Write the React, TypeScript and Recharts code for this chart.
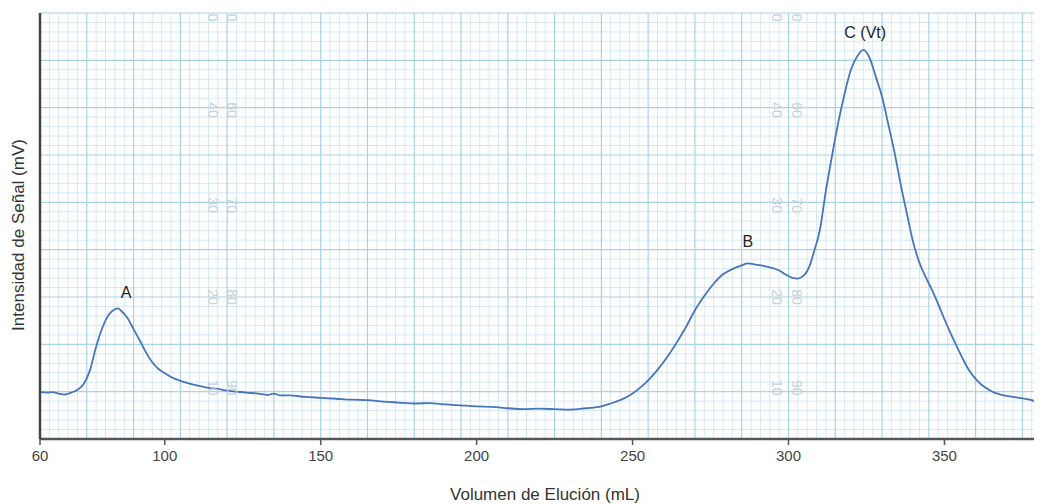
import React from 'react';
import { LineChart, Line, XAxis, YAxis, ReferenceLine, ReferenceDot } from 'recharts';

const volumes = [
  60, 62, 64, 66, 68, 70, 72, 74, 76, 78, 80, 82, 84, 85, 86, 88, 90, 92, 94, 96, 98, 100,
  102, 105, 108, 111, 114, 117, 120, 123, 126, 130, 133, 135, 137, 140, 145, 150, 155, 160,
  165, 170, 175, 180, 185, 190, 195, 200, 205, 210, 215, 220, 225, 230, 235, 240, 243, 246,
  249, 252, 255, 258, 261, 264, 267, 270, 273, 276, 279, 282, 285, 287, 289, 292, 295, 297,
  299, 301, 303, 305, 306, 307, 308, 310, 312, 314, 316, 318, 320, 322, 324, 326, 328, 330,
  332, 334, 336, 338, 340, 342, 344, 346, 348, 350, 352, 354, 356, 358, 360, 362, 364, 366,
  368, 370, 373, 376, 378, 380,
];
const signal = [
  9.9, 9.8, 9.9, 9.6, 9.4, 9.8, 10.4, 11.6, 14.5, 19.5, 23.5, 26.2, 27.4, 27.6, 27.1, 25.6,
  23.2, 20.8, 18.3, 16.2, 14.8, 13.9, 13.1, 12.3, 11.7, 11.2, 10.8, 10.6, 10.2, 10.0, 9.8,
  9.6, 9.3, 9.6, 9.2, 9.2, 8.9, 8.7, 8.5, 8.3, 8.2, 7.9, 7.7, 7.5, 7.6, 7.3, 7.1, 6.9, 6.8,
  6.5, 6.3, 6.4, 6.3, 6.2, 6.5, 6.9, 7.5, 8.2, 9.2, 10.6, 12.4, 14.6, 17.2, 20.2, 23.5,
  27.2, 30.2, 32.8, 34.8, 35.9, 36.7, 37.1, 36.9, 36.6, 36.1, 35.6, 34.8, 34.1, 33.9, 34.6,
  35.5, 37.0, 39.2, 44.0, 52.5, 60.0, 67.0, 73.0, 78.0, 80.8, 82.2, 80.5, 76.5, 72.3, 66.5,
  60.5, 53.7, 47.5, 41.5, 37.2, 34.2, 31.5, 28.5, 25.3, 22.3, 19.5, 16.8, 14.4, 12.7, 11.4,
  10.5, 9.8, 9.4, 9.1, 8.8, 8.5, 8.2, 7.6,
];

const xTicks = [60, 100, 150, 200, 250, 300, 350];

// picos marcados
const peakLabels = ['A', 'B', 'C (Vt)'];
const peakX = [87.6, 287, 324.6];
const peakY = [31, 41.8, 86];

// números impresos en el papel milimetrado
const paperNums = ['0', '40', '30', '20', '10', '0', '60', '70', '80', '90'];
const paperNumY = [89, 69.5, 49.4, 30, 10.8, 89, 69.5, 49.4, 30, 10.8];
const paperColsLeft = [115.5, 121.6];
const paperColsRight = [296.4, 302.8];

const data = volumes.map((v, i) => ({ vol: v, mv: signal[i] }));

const range = (a: number, b: number, step: number) => {
  const out: number[] = [];
  for (let v = a; v <= b + 1e-9; v += step) out.push(Math.round(v * 1000) / 1000);
  return out;
};
const majorX = range(60, 375, 15);
const majorY = range(0, 90, 10);
const minorX = range(60, 380, 3).filter((v) => !majorX.includes(v));
const minorY = range(0, 90, 2).filter((v) => !majorY.includes(v));

const font = '"Liberation Sans", Arial, sans-serif';
const minorColor = '#d5e9f3';
const majorColor = '#a9d2e7';

const YTitle = (props: any) => {
  const vb = props.viewBox || { x: 0, y: 0, height: 0 };
  const cx = 10;
  const cy = vb.y + vb.height / 2 + 9;
  return (
    <text
      x={cx}
      y={cy}
      transform={`rotate(-90 ${cx} ${cy})`}
      textAnchor="middle"
      dominantBaseline="central"
      fontSize={17}
      fill="#333"
      fontFamily={font}
    >
      Intensidad de Señal (mV)
    </text>
  );
};

const XTitle = () => (
  <text x={537} y={492} textAnchor="middle" fontSize={17} fill="#333" fontFamily={font}>
    Volumen de Elución (mL)
  </text>
);

export default function App() {
  const paperDots: React.ReactNode[] = [];
  paperNums.forEach((n, i) => {
    const left = i < 5 ? paperColsLeft[0] : paperColsLeft[1];
    const right = i < 5 ? paperColsRight[0] : paperColsRight[1];
    [left, right].forEach((x, k) => {
      paperDots.push(
        <ReferenceDot
          key={`p${i}-${k}`}
          x={x}
          y={paperNumY[i]}
          r={0}
          fill="none"
          stroke="none"
          label={{ value: n, angle: 90, position: 'center', fill: '#c3d1d9', fontSize: 14, fontFamily: font }}
        />
      );
    });
  });

  return (
    <div style={{ fontFamily: font }}>
      <LineChart width={1034} height={496} data={data} margin={{ top: 5, right: 4, left: 0, bottom: 0 }}>
        {minorX.map((v) => (
          <ReferenceLine key={`mx${v}`} x={v} stroke={minorColor} strokeWidth={1} zIndex={-100} />
        ))}
        {minorY.map((v) => (
          <ReferenceLine key={`my${v}`} y={v} stroke={minorColor} strokeWidth={1} zIndex={-100} />
        ))}
        {majorX.map((v) => (
          <ReferenceLine key={`Mx${v}`} x={v} stroke={majorColor} strokeWidth={1.2} zIndex={-90} />
        ))}
        {majorY.map((v) => (
          <ReferenceLine key={`My${v}`} y={v} stroke={majorColor} strokeWidth={1.2} zIndex={-90} />
        ))}
        <XAxis
          dataKey="vol"
          type="number"
          domain={[60, 380]}
          ticks={xTicks}
          height={65}
          tickSize={6}
          tickMargin={5}
          stroke="#555"
          axisLine={{ stroke: '#555', strokeWidth: 2.5 }}
          tickLine={{ stroke: '#555', strokeWidth: 1.5 }}
          tick={{ fill: '#444', fontSize: 15, fontFamily: font }}
          allowDataOverflow
          label={<XTitle />}
        />
        <YAxis
          type="number"
          domain={[0, 90]}
          width={32}
          tick={false}
          tickLine={false}
          axisLine={{ stroke: '#444', strokeWidth: 2.5 }}
          allowDataOverflow
          label={<YTitle />}
        />
        {paperDots}
        <Line
          type="monotone"
          dataKey="mv"
          stroke="#4675bd"
          strokeWidth={1.8}
          dot={false}
          activeDot={false}
          isAnimationActive={false}
        />
        {peakLabels.map((p, i) => (
          <ReferenceDot
            key={p}
            x={peakX[i]}
            y={peakY[i]}
            r={0}
            fill="none"
            stroke="none"
            label={{ value: p, position: 'center', fill: '#222', fontSize: 16, fontFamily: font }}
          />
        ))}
      </LineChart>
    </div>
  );
}
